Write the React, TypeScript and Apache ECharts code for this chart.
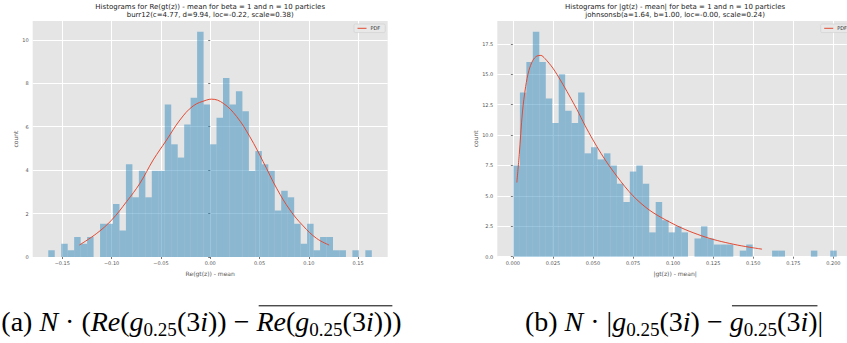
import React, { useEffect, useRef } from 'react';
import * as echarts from 'echarts';

// ---------- data ----------
const LEFT_TITLE_1 = 'Histograms for Re(gt(z)) - mean for beta = 1 and n = 10 particles';
const LEFT_TITLE_2 = 'burr12(c=4.77, d=9.94, loc=-0.22, scale=0.38)';
const RIGHT_TITLE_1 = 'Histograms for |gt(z) - mean| for beta = 1 and n = 10 particles';
const RIGHT_TITLE_2 = 'johnsonsb(a=1.64, b=1.00, loc=-0.00, scale=0.24)';
const LEFT_X_NAME = 'Re(gt(z)) - mean';
const RIGHT_X_NAME = '|gt(z)) - mean|';
const Y_NAME = 'count';
const LEGEND_NAME = 'PDF';

const LEFT_X_TICKS = [-0.15, -0.1, -0.05, 0, 0.05, 0.1, 0.15];
const LEFT_Y_TICKS = [0, 2, 4, 6, 8, 10];
const RIGHT_X_TICKS = [0, 0.025, 0.05, 0.075, 0.1, 0.125, 0.15, 0.175, 0.2];
const RIGHT_Y_TICKS = [0, 2.5, 5, 7.5, 10, 12.5, 15, 17.5];

const LEFT_BIN_START = -0.1642;
const LEFT_BIN_WIDTH = 0.006562;
const leftDensity = [
  0.31, 0, 0.61, 0.31, 0.92, 0.61, 0.92, 0, 1.53, 1.53,
  2.44, 1.22, 4.27, 2.75, 3.97, 2.75, 3.97, 3.97, 7.02, 5.19,
  4.58, 6.1, 7.33, 10.38, 7.02, 5.19, 6.41, 8.24, 7.02, 7.63,
  6.71, 3.97, 4.88, 4.27, 3.97, 2.14, 3.05, 2.75, 1.53, 0.61,
  1.53, 0.31, 0.92, 0.92, 0.31, 0.31, 0, 0.31, 0, 0.31,
];

const RIGHT_BIN_START = 0.00037;
const RIGHT_BIN_WIDTH = 0.004035;
const rightDensity = [
  7.5, 13.5, 16.0, 18.5, 16.0, 13.0, 11.0, 15.0, 12.0, 11.0,
  13.5, 8.5, 9.0, 8.0, 8.5, 7.5, 6.0, 4.5, 7.0, 7.5,
  6.0, 2.0, 4.5, 3.0, 2.0, 2.5, 2.0, 0, 1.5, 2.5,
  1.5, 1.0, 1.0, 1.0, 0, 0.5, 1.0, 0, 0, 0,
  0.5, 0.5, 0, 0, 0, 0, 0.5, 0, 0, 0.5,
];

const leftPdfX = [-0.1327, -0.115, -0.1, -0.0848, -0.0712, -0.0578, -0.0442, -0.0307, -0.0172, -0.0036,
  0.0014, 0.0132, 0.0268, 0.0402, 0.0537, 0.0673, 0.0808, 0.0943, 0.1078, 0.1206];
const leftPdfY = [0.55, 1.09, 1.7, 2.55, 3.4, 4.47, 5.39, 6.31, 6.96, 7.23,
  7.27, 7.08, 6.47, 5.54, 4.39, 3.17, 2.17, 1.43, 0.86, 0.55];

const rightPdfX = [0.0025, 0.004, 0.006, 0.008, 0.01, 0.0125, 0.015, 0.0175, 0.02, 0.025,
  0.03, 0.035, 0.04, 0.045, 0.05, 0.055, 0.06, 0.065, 0.07, 0.075,
  0.08, 0.085, 0.09, 0.095, 0.1, 0.105, 0.11, 0.115, 0.12, 0.125,
  0.13, 0.135, 0.14, 0.145, 0.15, 0.1555];
const rightPdfY = [6.1, 8.4, 11.9, 14.0, 15.3, 16.15, 16.5, 16.55, 16.3, 15.5,
  14.45, 13.3, 12.1, 10.8, 9.6, 8.5, 7.5, 6.6, 5.75, 5.0,
  4.38, 3.85, 3.42, 3.05, 2.7, 2.38, 2.1, 1.85, 1.62, 1.42,
  1.25, 1.1, 0.96, 0.84, 0.73, 0.62];

type Tok = { t: string; s: 'n' | 'i' | 's'; o?: boolean };
const CAPTION_A: Tok[] = [
  { t: '(a) ', s: 'n' }, { t: 'N', s: 'i' }, { t: ' · ', s: 'n' }, { t: '(', s: 'n' },
  { t: 'Re', s: 'i' }, { t: '(', s: 'n' }, { t: 'g', s: 'i' }, { t: '0.25', s: 's' },
  { t: '(3', s: 'n' }, { t: 'i', s: 'i' }, { t: '))', s: 'n' }, { t: ' − ', s: 'n' },
  { t: 'Re', s: 'i', o: true }, { t: '(', s: 'n', o: true }, { t: 'g', s: 'i', o: true },
  { t: '0.25', s: 's', o: true }, { t: '(3', s: 'n', o: true }, { t: 'i', s: 'i', o: true },
  { t: '))', s: 'n', o: true }, { t: ')', s: 'n' },
];
const CAPTION_B: Tok[] = [
  { t: '(b) ', s: 'n' }, { t: 'N', s: 'i' }, { t: ' · ', s: 'n' }, { t: '|', s: 'n' },
  { t: 'g', s: 'i' }, { t: '0.25', s: 's' }, { t: '(3', s: 'n' }, { t: 'i', s: 'i' },
  { t: ')', s: 'n' }, { t: ' − ', s: 'n' },
  { t: 'g', s: 'i', o: true }, { t: '0.25', s: 's', o: true }, { t: '(3', s: 'n', o: true },
  { t: 'i', s: 'i', o: true }, { t: ')', s: 'n', o: true }, { t: '|', s: 'n' },
];

// ---------- helpers ----------
const BAR_FILL = 'rgba(52,138,189,0.5)';
const PDF_COLOR = '#E24A33';
const SANS = '"DejaVu Sans", sans-serif';
const SERIF = '"Liberation Serif", serif';

function bins(start: number, width: number, vals: number[]) {
  return vals.map((h, i) => [start + i * width, start + (i + 1) * width, h]);
}

const renderBar = (_p: any, api: any) => {
  const p0 = api.coord([api.value(0), api.value(2)]);
  const p1 = api.coord([api.value(1), 0]);
  return {
    type: 'rect',
    shape: { x: p0[0], y: p0[1], width: p1[0] - p0[0], height: p1[1] - p0[1] },
    style: { fill: BAR_FILL },
  };
};

function fontOf(s: string, size: number) {
  return `${s === 'i' ? 'italic ' : ''}${s === 's' ? size * 0.68 : size}px ${SERIF}`;
}

function captionElements(tokens: Tok[], centerX: number, yMid: number, F: number, ctx: CanvasRenderingContext2D) {
  const widths = tokens.map((tk) => { ctx.font = fontOf(tk.s, F); return ctx.measureText(tk.t).width; });
  const total = widths.reduce((a, b) => a + b, 0);
  let x = centerX - total / 2;
  const els: any[] = [];
  let ovS: number | null = null;
  let ovE = 0;
  tokens.forEach((tk, i) => {
    els.push({
      type: 'text', x, y: tk.s === 's' ? yMid + 0.3 * F : yMid, silent: true,
      style: { text: tk.t, font: fontOf(tk.s, F), fill: '#000', textAlign: 'left', textVerticalAlign: 'middle', verticalAlign: 'middle', align: 'left' },
    });
    if (tk.o) { if (ovS === null) ovS = x + (tk.s === 'i' ? F * 0.08 : 0); ovE = x + widths[i]; }
    x += widths[i];
  });
  if (ovS !== null) {
    els.push({ type: 'line', silent: true, shape: { x1: ovS, y1: yMid - 0.56 * F, x2: ovE, y2: yMid - 0.56 * F }, style: { stroke: '#000', lineWidth: 1 } });
  }
  return els;
}

function measureWidth(tokens: Tok[], F: number, ctx: CanvasRenderingContext2D) {
  let w = 0;
  tokens.forEach((tk) => { ctx.font = fontOf(tk.s, F); w += ctx.measureText(tk.t).width; });
  return w;
}

const axisCommon = {
  axisLine: { show: false },
  splitLine: { show: true, lineStyle: { color: '#ffffff', width: 1 } },
  nameTextStyle: { fontSize: 6, color: '#555555', fontFamily: SANS },
};

function xAxis(grid: number, min: number, max: number, ticks: number[], fmt: (v: number) => string, name: string) {
  return {
    ...axisCommon, type: 'value', gridIndex: grid, min, max,
    axisTick: { show: true, length: 2, lineStyle: { color: '#555', width: 0.8 }, customValues: ticks },
    axisLabel: { customValues: ticks, formatter: fmt, fontSize: 5, color: '#555555', fontFamily: SANS, margin: 3.5 },
    name, nameLocation: 'middle', nameGap: 10.5,
  };
}
function yAxis(grid: number, max: number, ticks: number[], fmt: (v: number) => string, gap: number) {
  return {
    ...axisCommon, type: 'value', gridIndex: grid, min: 0, max,
    axisTick: { show: true, length: 2, lineStyle: { color: '#555', width: 0.8 }, customValues: ticks },
    axisLabel: { customValues: ticks, formatter: fmt, fontSize: 5, color: '#555555', fontFamily: SANS, margin: 4 },
    name: Y_NAME, nameLocation: 'middle', nameGap: gap, nameRotate: 90,
  };
}

function legendAt(left: number) {
  return {
    data: [LEGEND_NAME], left, top: 24, orient: 'vertical',
    icon: 'rect', itemWidth: 9, itemHeight: 1, itemGap: 0,
    backgroundColor: '#E8E8E8', borderColor: '#CFCFCF', borderWidth: 0.6, borderRadius: 1.5,
    padding: [1.8, 5, 1.8, 3.5],
    textStyle: { fontSize: 5, color: '#333', fontFamily: SANS, padding: [0, 0, 0, -1] },
  };
}

export default function App() {
  const ref = useRef<HTMLDivElement>(null);
  useEffect(() => {
    if (!ref.current) return;
    const chart = echarts.init(ref.current, undefined, { renderer: 'svg' });
    const ctx = document.createElement('canvas').getContext('2d') as CanvasRenderingContext2D;
    const wa = measureWidth(CAPTION_A, 100, ctx) / 100;
    const wb = measureWidth(CAPTION_B, 100, ctx) / 100;
    const F = (393 / wa + 304 / wb) / 2;
    const capA = captionElements(CAPTION_A, 201.5, 321.5, F, ctx);
    const capB = captionElements(CAPTION_B, 674, 321.5, F, ctx);

    const titleText = (x: number, y: number, text: string) => ({
      type: 'text', x, y, silent: true,
      style: { text, font: `7px ${SANS}`, fill: '#222', textAlign: 'center', textVerticalAlign: 'middle', align: 'center', verticalAlign: 'middle' },
    });

    chart.setOption({
      animation: false,
      backgroundColor: '#ffffff',
      grid: [
        { left: 32.7, top: 21, width: 355, height: 236, show: true, backgroundColor: '#E5E5E5', borderWidth: 0 },
        { left: 497.3, top: 21, width: 355.6, height: 235.7, show: true, backgroundColor: '#E5E5E5', borderWidth: 0 },
      ],
      xAxis: [
        xAxis(0, -0.18, 0.18, LEFT_X_TICKS, (v) => (v < 0 ? '−' : '') + Math.abs(v).toFixed(2), LEFT_X_NAME),
        xAxis(1, -0.0097, 0.2122, RIGHT_X_TICKS, (v) => v.toFixed(3), RIGHT_X_NAME),
      ],
      yAxis: [
        yAxis(0, 10.87, LEFT_Y_TICKS, (v) => String(v), 14),
        yAxis(1, 19.38, RIGHT_Y_TICKS, (v) => v.toFixed(1), 19),
      ],
      legend: [legendAt(354), legendAt(820.7)],
      series: [
        {
          type: 'custom', xAxisIndex: 0, yAxisIndex: 0, renderItem: renderBar,
          encode: { x: [0, 1], y: 2 }, data: bins(LEFT_BIN_START, LEFT_BIN_WIDTH, leftDensity), silent: true,
        },
        {
          type: 'custom', xAxisIndex: 1, yAxisIndex: 1, renderItem: renderBar,
          encode: { x: [0, 1], y: 2 }, data: bins(RIGHT_BIN_START, RIGHT_BIN_WIDTH, rightDensity), silent: true,
        },
        {
          type: 'line', name: LEGEND_NAME, xAxisIndex: 0, yAxisIndex: 0, showSymbol: false, smooth: 0.4,
          lineStyle: { color: PDF_COLOR, width: 1 }, itemStyle: { color: PDF_COLOR },
          data: leftPdfX.map((x, i) => [x, leftPdfY[i]]),
        },
        {
          type: 'line', name: LEGEND_NAME, xAxisIndex: 1, yAxisIndex: 1, showSymbol: false, smooth: 0.3,
          lineStyle: { color: PDF_COLOR, width: 1 }, itemStyle: { color: PDF_COLOR },
          data: rightPdfX.map((x, i) => [x, rightPdfY[i]]),
        },
      ],
      graphic: [
        titleText(210.2, 6.7, LEFT_TITLE_1),
        titleText(210.2, 15.3, LEFT_TITLE_2),
        titleText(675.1, 6.7, RIGHT_TITLE_1),
        titleText(675.1, 15.3, RIGHT_TITLE_2),
        ...capA,
        ...capB,
      ],
    });
    return () => chart.dispose();
  }, []);
  return (
    <div style={{ position: 'fixed', left: 0, top: 0, width: 847, height: 343, overflow: 'hidden', background: '#fff' }}>
      <div ref={ref} style={{ width: 880, height: 343 }} />
    </div>
  );
}
